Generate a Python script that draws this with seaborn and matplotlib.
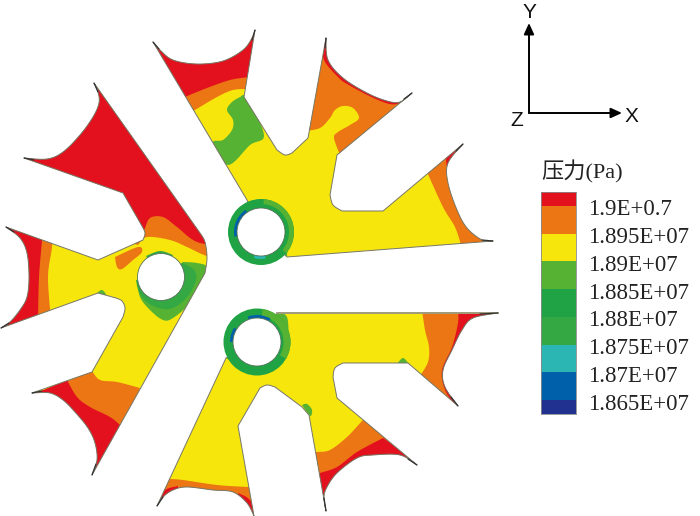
import numpy as np
import matplotlib
matplotlib.use('Agg')
import matplotlib.pyplot as plt
from matplotlib.colors import ListedColormap
from matplotlib.patches import Polygon, Circle, Wedge
import seaborn as sns

RED = '#e3101e'
ORANGE = '#ec7514'
YELLOW = '#f6e60c'
LGREEN = '#55b232'
GREEN = '#1fa344'
GREEN2 = '#33a843'
TEAL = '#2bb6b4'
BLUE = '#0060aa'
NAVY = '#21318f'

# legend
legend_colors = [RED, ORANGE, YELLOW, LGREEN, GREEN, GREEN2, TEAL, BLUE, NAVY]
legend_rows = [0, 1, 1, 2, 2, 3, 3, 4, 4, 5, 5, 6, 6, 7, 7, 8]
legend_labels = ['1.9E+0.7', '1.895E+07', '1.89E+07', '1.885E+07', '1.88E+07',
                 '1.875E+07', '1.87E+07', '1.865E+07']

# left plate in pixels
left_outline = [(94, 83), (200, 233), 'arc', (200, 233), (205, 242), (207, 258), (205, 273), 'end',
                (92, 475), 'arc', (92, 475), (97, 460), (95, 443), (88, 428), (75, 412), (63, 400), (50, 393), (32, 393), 'end',
                (92, 372), (123, 317), 'arc', (123, 317), (125, 308), (122, 301), (116, 298), 'end',
                (98, 293), (1, 328), 'arc', (1, 328), (10, 322), (20, 310), (27, 297), (29, 277), (27, 253), (20, 238), (6, 227), 'end',
                (98, 260), (143, 240), 'arc', (143, 240), (145, 233), (142, 226), 'end',
                (123, 193), (24, 158), 'arc', (24, 158), (47, 159), (63, 152), (80, 135), (93, 117), (99, 103), (98, 92), (94, 83), 'end']
# each region: colour, curved edge, straight corners that close it outside the plate
left_regions = [
    (ORANGE, [(138, 245), (147, 237), (170, 240), (187, 247), (204, 255), (225, 262)], [(225, 60), (0, 60), (0, 200)]),
    (RED, [(138, 236), (144, 230), (150, 218), (163, 217), (177, 227), (197, 242), (225, 246)], [(225, 60), (0, 60), (0, 200)]),
    (ORANGE, [(115, 257), (138, 247), (142, 252), (133, 260), (122, 269), (117, 267), (115, 257)], []),
    (ORANGE, [(52, 230), (52, 247), (48, 277), (51, 320)], [(0, 335), (0, 220)]),
    (RED, [(42, 230), (42, 240), (39, 277), (38, 320)], [(0, 335), (0, 220)]),
    (ORANGE, [(92, 371), (100, 380), (117, 382), (140, 388)], [(125, 430), (80, 480), (20, 400)]),
    (RED, [(67, 380), (77, 397), (90, 407), (110, 417), (120, 425)], [(100, 490), (20, 400)]),
    (LGREEN, [(183, 262), (197, 263), (207, 267), (203, 280), (190, 303), (173, 318), (163, 320), (150, 310), (140, 297), (137, 280)], [(161, 277)]),
    (GREEN2, [(183, 263), (194, 270), (196, 280), (188, 296), (175, 307), (163, 309), (148, 303), (139, 292), (136, 280)], [(161, 277)]),
    (GREEN2, [(146, 256), (160, 251), (173, 255)], [(161, 277)]),
    (LGREEN, [(97, 293), (102, 290), (106, 295), (100, 296), (97, 293)], []),
]

# top plate
top_outline = [(153, 42), 'arc', (153, 42), (160, 50), (173, 60), (197, 64), (223, 61), (243, 50), (252, 38), (255, 30), 'end',
               (244, 97), (277, 150), 'arc', (277, 150), (285, 155), (292, 153), 'end',
               (308, 138), (326, 38), 'arc', (326, 38), (328, 60), (343, 78), (367, 93), (387, 101), (400, 102), (412, 93), 'end',
               (337, 155), (330, 195), 'arc', (330, 195), (333, 205), (342, 211), 'end',
               (383, 211), (463, 144), 'arc', (463, 144), (448, 163), (448, 183), (457, 210), (467, 228), (482, 240), (493, 241), 'end',
               (287, 257), (261, 232), (247, 200)]
top_regions = [
    (ORANGE, [(190, 113), (195, 110), (217, 97), (233, 90), (248, 89)], [(270, 60), (150, 30)]),
    (RED, [(180, 100), (185, 97), (207, 88), (230, 80), (249, 77)], [(270, 30), (140, 30)]),
    (LGREEN, [(240, 97), (247, 98), (264, 135), (250, 145), (228, 165), (213, 143), (223, 140), (232, 130), (233, 120), (227, 110), (232, 102), (240, 97)], []),
    (ORANGE, [(305, 131), (320, 128), (330, 118), (335, 110), (343, 106), (353, 108), (359, 118), (350, 125), (338, 132), (334, 138), (340, 155)], [(425, 90), (330, 25), (300, 60)]),
    (RED, [(322, 50), (325, 62), (337, 76), (347, 84), (378, 100), (397, 104), (415, 92)], [(420, 30), (320, 30)]),
    (ORANGE, [(427, 172), (443, 207), (455, 227), (461, 245)], [(500, 245), (500, 130), (430, 165)]),
    (RED, [(446, 155), (447, 166), (452, 160), (470, 140)], [(455, 140)]),
    (LGREEN, [(247, 200), (255, 207), (267, 205), (283, 210), (293, 227), (288, 247), (287, 258)], [(261, 232)]),
]

# bottom plate
bottom_outline = [(277, 313), (498, 313), 'arc', (498, 313), (473, 318), (462, 330), (452, 350), (443, 370), (445, 387), (458, 406), 'end',
                  (408, 363), (343, 363), 'arc', (343, 363), (335, 368), (333, 377), 'end',
                  (337, 398), (417, 465), 'arc', (417, 465), (400, 455), (373, 455), (357, 458), (337, 473), (327, 487), (324, 497), (326, 511), 'end',
                  (309, 415), (302, 407), (275, 387), 'arc', (275, 387), (267, 385), (260, 388), 'end',
                  (238, 426), (254, 516), 'arc', (254, 516), (247, 503), (233, 492), (213, 490), (187, 487), (173, 490), (163, 497), (157, 506), 'end',
                  (226, 358), (257, 342)]
bottom_regions = [
    (ORANGE, [(165, 479), (170, 479), (183, 480), (217, 485), (248, 487), (252, 487)], [(265, 520), (150, 520)]),
    (RED, [(160, 500), (165, 490), (178, 486)], [(178, 495), (150, 515)]),
    (RED, [(238, 493), (250, 500), (256, 516)], [(240, 518)]),
    (ORANGE, [(312, 453), (317, 452), (330, 450), (347, 437), (362, 421), (366, 417)], [(430, 470), (320, 520)]),
    (RED, [(316, 475), (320, 473), (337, 467), (357, 452), (383, 438)], [(430, 470), (320, 520)]),
    (ORANGE, [(422, 310), (425, 330), (429, 347), (428, 362), (420, 376)], [(470, 420), (510, 305)]),
    (RED, [(458, 310), (458, 323), (452, 347), (442, 370), (445, 390), (455, 405)], [(510, 420), (510, 305)]),
    (LGREEN, [(397, 364), (403, 358), (409, 364)], []),
    (LGREEN, [(302, 405), (307, 404), (312, 410), (310, 416), (302, 405)], []),
    (LGREEN, [(275, 312), (287, 317), (288, 343), (285, 352), (280, 352)], [(257, 342)]),
    (LGREEN, [(226, 358), (243, 368), (257, 372), (270, 368), (272, 363)], [(257, 342)]),
]

# center x, center y, hole radius, ring radius
rings = [(261, 232, 24, 33), (257, 342, 24, 33.5)]
left_hole = (161, 277, 23.5)
# center x, center y, radius, width, start angle, end angle, colour (angles follow the flipped y axis)
ring_shades = [(261, 232, 33, 5, 275, 40, LGREEN), (257, 342, 33.5, 7, 280, 30, LGREEN),
               (261, 232, 27, 3, 170, 235, BLUE), (261, 232, 27, 3, 80, 105, TEAL),
               (257, 342, 27, 3, 250, 300, BLUE), (257, 342, 27, 3, 180, 212, BLUE)]
# dark needle ends of the blades
tip_lines = [((94, 83), (98, 92)), ((24, 158), (34, 160)), ((6, 227), (14, 232)), ((1, 328), (9, 323)),
             ((32, 393), (42, 391)), ((92, 475), (96, 464)), ((157, 506), (163, 497)), ((326, 511), (324, 498)),
             ((417, 465), (408, 459)), ((458, 406), (451, 397)), ((498, 313), (480, 314)), ((493, 241), (482, 240)),
             ((463, 144), (456, 151)), ((412, 93), (404, 99)), ((326, 38), (325, 48)), ((255, 30), (252, 40)),
             ((153, 42), (159, 49))]


def catmull(pts, n=8):
    pts = np.array(pts, dtype=float)
    ctrl = np.vstack([pts[0], pts, pts[-1]])
    t = np.linspace(0, 1, n, endpoint=False)[:, None]
    out = []
    for i in range(1, len(ctrl) - 2):
        p0, p1, p2, p3 = ctrl[i - 1], ctrl[i], ctrl[i + 1], ctrl[i + 2]
        out.append(0.5 * (2 * p1 + (p2 - p0) * t + (2 * p0 - 5 * p1 + 4 * p2 - p3) * t ** 2
                          + (3 * p1 - p0 - 3 * p2 + p3) * t ** 3))
    out.append(ctrl[-2:-1])
    return np.vstack(out)


def build_outline(spec):
    out = []
    i = 0
    while i < len(spec):
        if spec[i] == 'arc':
            j = spec.index('end', i)
            out.extend(catmull(spec[i + 1:j]).tolist())
            i = j + 1
        else:
            out.append(spec[i])
            i += 1
    return out


def draw_plate(ax, spec, regions):
    outline = build_outline(spec)
    base = Polygon(outline, closed=True, fc=YELLOW, ec='none', zorder=2)
    ax.add_patch(base)
    for color, edge, corners in regions:
        pts = catmull(edge).tolist() + list(corners)
        p = Polygon(pts, closed=True, fc=color, ec='none', zorder=3)
        ax.add_patch(p)
        p.set_clip_path(base)
    ax.add_patch(Polygon(outline, closed=True, fc='none', ec='#77776a', lw=0.7, zorder=4))


sns.set_theme(style='white')
plt.rcParams['font.family'] = ['Liberation Serif', 'Noto Sans CJK SC']

fig = plt.figure(figsize=(7, 5.16), dpi=100)
ax = fig.add_axes([0, 0, 1, 1])
ax.set_xlim(0, 700)
ax.set_ylim(516, 0)
ax.axis('off')

draw_plate(ax, left_outline, left_regions)
draw_plate(ax, top_outline, top_regions)
draw_plate(ax, bottom_outline, bottom_regions)

ax.plot([277, 498], [313, 313], color='#a09c7c', lw=1.4, zorder=4)
for a, b in tip_lines:
    ax.plot([a[0], b[0]], [a[1], b[1]], color='#333333', lw=0.9, zorder=4)

ax.add_patch(Circle(left_hole[:2], left_hole[2], fc='white', ec='#55705a', lw=0.6, zorder=6))
for cx, cy, r_in, r_out in rings:
    ax.add_patch(Circle((cx, cy), r_out, fc=GREEN, ec='none', zorder=5))
for cx, cy, r, w, t0, t1, color in ring_shades:
    ax.add_patch(Wedge((cx, cy), r, t0, t1, width=w, fc=color, ec='none', zorder=5))
for cx, cy, r_in, r_out in rings:
    ax.add_patch(Circle((cx, cy), r_in, fc='white', ec='#55705a', lw=0.6, zorder=6))

# axis triad
for end in [(529, 23), (622, 113)]:
    ax.annotate('', xy=end, xytext=(529, 113), zorder=7,
                arrowprops=dict(arrowstyle='-|>,head_length=0.55,head_width=0.25', color='black',
                                lw=1.4, shrinkA=0, shrinkB=0))
for s, x, y in [('Y', 529, 12), ('X', 631, 116), ('Z', 517, 121)]:
    ax.text(x, y, s, family='Liberation Sans', fontsize=15, color='#111111', ha='center', va='center')

ax.text(541, 172, '压力(Pa)', fontsize=16, color='#222222', ha='left', va='center')

# legend strip
lax = fig.add_axes([541 / 700, 1 - 414 / 516, 35 / 700, 222 / 516])
sns.heatmap(np.array(legend_rows).reshape(-1, 1), cmap=ListedColormap(legend_colors), vmin=-0.5, vmax=8.5,
            cbar=False, xticklabels=False, ax=lax)
lax.yaxis.tick_right()
lax.set_yticks(np.arange(len(legend_labels)) * 2 + 1.1)
lax.set_yticklabels(legend_labels, rotation=0, fontsize=16.5, color='#222222')
lax.tick_params(axis='y', length=0, pad=9)
for spine in lax.spines.values():
    spine.set_visible(True)
    spine.set_color('#8a8a8a')
    spine.set_linewidth(0.6)

fig.savefig('out.png', dpi=100)
